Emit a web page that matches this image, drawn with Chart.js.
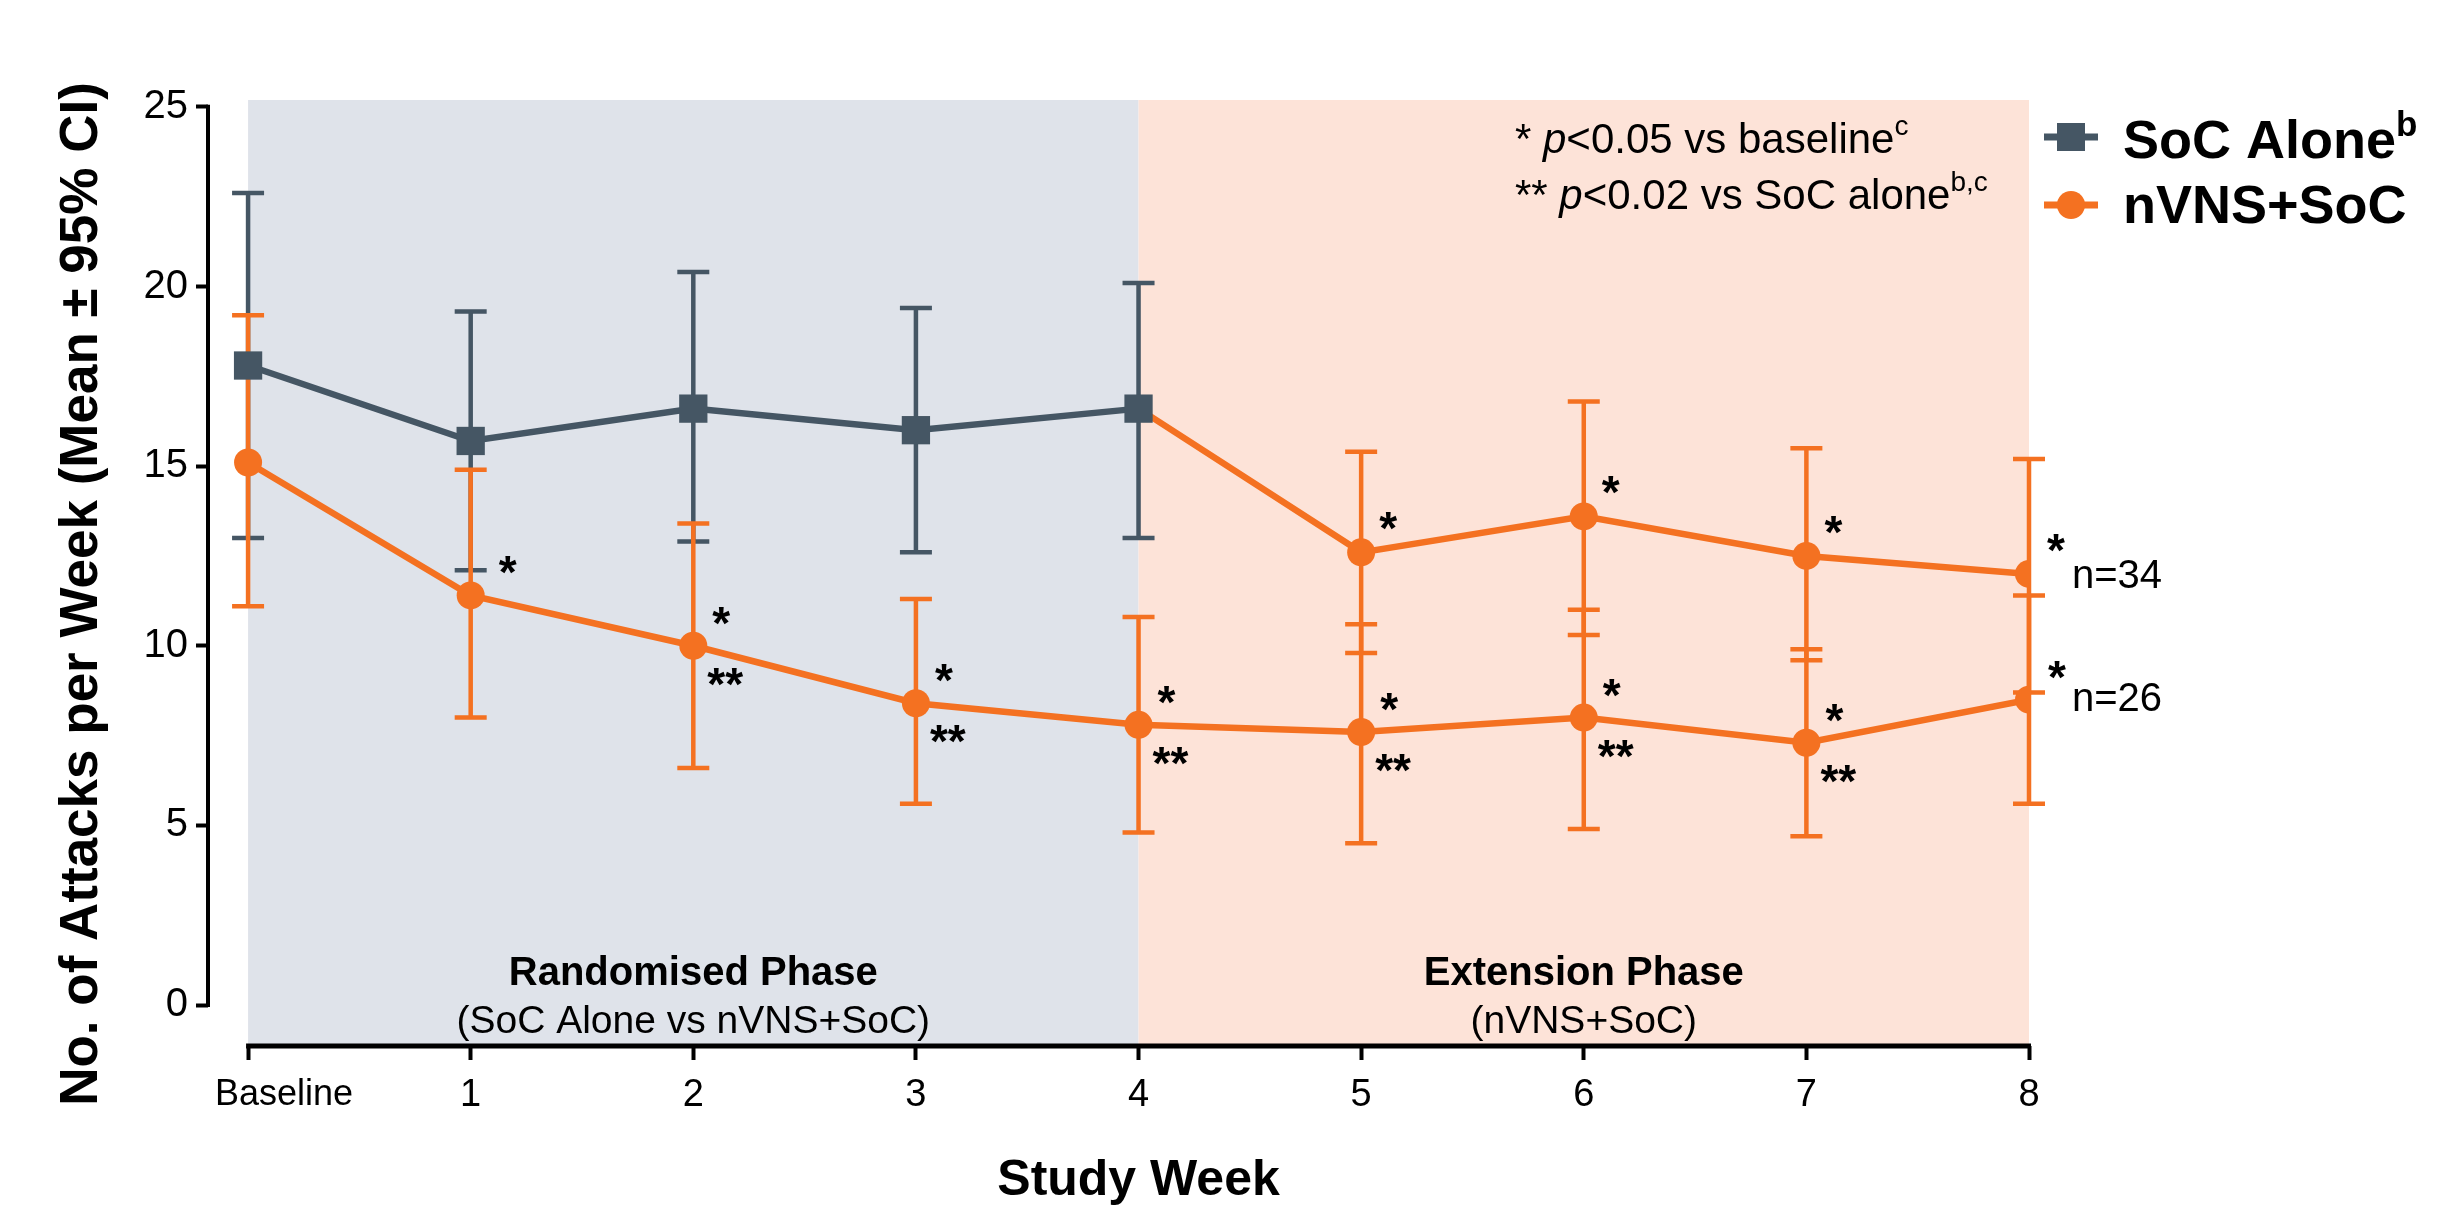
<!DOCTYPE html>
<html><head><meta charset="utf-8">
<script src="https://cdn.jsdelivr.net/npm/chart.js@4.4.1/dist/chart.umd.min.js"></script>
<style>html,body{margin:0;padding:0;background:#fff;}canvas{display:block;}</style>
</head><body>
<canvas id="c" width="2461" height="1208"></canvas>
<script>
// ---------- data ----------
const weekLabels = ['Baseline','1','2','3','4','5','6','7','8'];
const weekValues = [0,1,2,3,4,5,6,7,8];
const yTickValues = [0,5,10,15,20,25];

const socWeeks = [0,1,2,3,4];
const socMean  = [17.8,15.7,16.6,16.0,16.6];
const socUpper = [22.6,19.3,20.4,19.4,20.1];
const socLower = [13.0,12.1,12.9,12.6,13.0];

const extWeeks = [4,5,6,7,8];
const extMean  = [16.6,12.6,13.6,12.5,12.0];
const extUpper = [null,15.4,16.8,15.5,15.2];
const extLower = [null,9.8,10.3,9.6,8.7];
const extStar  = ['','*','*','*','*'];

const nvnsWeeks = [0,1,2,3,4,5,6,7,8];
const nvnsMean  = [15.1,11.4,10.0,8.4,7.8,7.6,8.0,7.3,8.5];
const nvnsUpper = [19.2,14.9,13.4,11.3,10.8,10.6,11.0,9.9,11.4];
const nvnsLower = [11.1,8.0,6.6,5.6,4.8,4.5,4.9,4.7,5.6];
const nvnsStar  = ['','*','*','*','*','*','*','*','*'];
const nvnsStar2 = ['','','**','**','**','**','**','**',''];

const nLabels = ['n=34','n=26'];
const legendNames = ['SoC Alone','nVNS+SoC'];
const legendSup = ['b',''];
const phaseTitles = ['Randomised Phase','Extension Phase'];
const phaseSubs = ['(SoC Alone vs nVNS+SoC)','(nVNS+SoC)'];
const phaseRanges = [[0,4],[4,8]];
const yTitle = 'No. of Attacks per Week (Mean \u00b1 95% CI)';
const xTitle = 'Study Week';

// ---------- styles ----------
const FONT = "'Liberation Sans', Arial, Helvetica, sans-serif";
const SLATE = '#455664';
const ORANGE = '#F47121';
const SHADE1 = '#DFE3EA';
const SHADE2 = '#FDE3D8';

function pts(xs, ys){ return xs.map((x,i)=>({x:x, y:ys[i]})); }

const decor = {
  id: 'decor',
  beforeDatasetsDraw(chart){
    const {ctx, chartArea:a, scales:{x,y}} = chart;
    ctx.save();
    [SHADE1, SHADE2].forEach((c,i)=>{
      const x0 = x.getPixelForValue(phaseRanges[i][0]);
      const x1 = x.getPixelForValue(phaseRanges[i][1]);
      ctx.fillStyle = c;
      ctx.fillRect(x0, a.top, x1-x0, a.bottom-a.top);
    });
    ctx.fillStyle = '#000';
    ctx.textAlign = 'center';
    ctx.textBaseline = 'alphabetic';
    phaseRanges.forEach((r,i)=>{
      const cx = (x.getPixelForValue(r[0]) + x.getPixelForValue(r[1]))/2;
      ctx.font = 'bold 40px ' + FONT;
      ctx.fillText(phaseTitles[i], cx, 985);
      ctx.font = '39px ' + FONT;
      ctx.fillText(phaseSubs[i], cx, 1033);
    });
    function err(ws, up, lo, col){
      ctx.strokeStyle = col; ctx.lineWidth = 4.5; ctx.lineCap = 'butt';
      ws.forEach((w,i)=>{
        if (up[i]==null) return;
        const px = x.getPixelForValue(w);
        const pu = y.getPixelForValue(up[i]);
        const pl = y.getPixelForValue(lo[i]);
        ctx.beginPath();
        ctx.moveTo(px, pu); ctx.lineTo(px, pl);
        ctx.moveTo(px-16, pu); ctx.lineTo(px+16, pu);
        ctx.moveTo(px-16, pl); ctx.lineTo(px+16, pl);
        ctx.stroke();
      });
    }
    err(socWeeks, socUpper, socLower, SLATE);
    err(extWeeks, extUpper, extLower, ORANGE);
    err(nvnsWeeks, nvnsUpper, nvnsLower, ORANGE);
    ctx.restore();
  },
  afterDraw(chart){
    const {ctx, chartArea:a, scales:{x,y}} = chart;
    ctx.save();
    ctx.strokeStyle = '#000';
    ctx.lineWidth = 4;
    ctx.beginPath();
    ctx.moveTo(a.left, y.getPixelForValue(25)-2);
    ctx.lineTo(a.left, y.getPixelForValue(0)+2);
    ctx.stroke();
    ctx.lineWidth = 5;
    ctx.beginPath();
    ctx.moveTo(x.getPixelForValue(0)-2, a.bottom);
    ctx.lineTo(x.getPixelForValue(8)+2, a.bottom);
    ctx.stroke();

    ctx.fillStyle = '#000';
    ctx.font = '36px ' + FONT;
    ctx.textAlign = 'center';
    ctx.textBaseline = 'middle';
    ctx.fillText(weekLabels[0], x.getPixelForValue(0)+36, 1095);

    ctx.font = 'bold 50px ' + FONT;
    ctx.textBaseline = 'alphabetic';
    ctx.fillText(xTitle, (x.getPixelForValue(0)+x.getPixelForValue(8))/2, 1195);
    ctx.save();
    ctx.translate(97, 594);
    ctx.rotate(-Math.PI/2);
    ctx.font = 'bold 53px ' + FONT;
    ctx.fillText(yTitle, 0, 0);
    ctx.restore();

    function mark(t, cx, cy, size){
      ctx.font = 'bold ' + size + 'px ' + FONT;
      const m = ctx.measureText(t);
      const w = m.actualBoundingBoxRight + m.actualBoundingBoxLeft;
      const h = m.actualBoundingBoxAscent + m.actualBoundingBoxDescent;
      ctx.textAlign = 'left'; ctx.textBaseline = 'alphabetic';
      ctx.fillText(t, cx - w/2 + m.actualBoundingBoxLeft, cy + h/2 - m.actualBoundingBoxDescent);
    }
    nvnsWeeks.forEach((w,i)=>{
      const px = x.getPixelForValue(w), py = y.getPixelForValue(nvnsMean[i]);
      if (nvnsStar[i]) mark(nvnsStar[i], px+28, py-30, 46);
      if (nvnsStar2[i]) mark(nvnsStar2[i], px+32, py+31, 46);
    });
    extWeeks.forEach((w,i)=>{
      const px = x.getPixelForValue(w), py = y.getPixelForValue(extMean[i]);
      if (extStar[i]) mark(extStar[i], px+27, py-31, 46);
    });

    ctx.font = '40px ' + FONT;
    ctx.textAlign = 'left';
    ctx.textBaseline = 'middle';
    ctx.fillText(nLabels[0], x.getPixelForValue(8)+43, y.getPixelForValue(extMean[4])+3);
    ctx.fillText(nLabels[1], x.getPixelForValue(8)+43, y.getPixelForValue(nvnsMean[8]));

    function runs(parts, x0, base){
      let cx = x0;
      ctx.textAlign = 'left'; ctx.textBaseline = 'alphabetic';
      parts.forEach(p=>{
        ctx.font = p.f;
        ctx.fillText(p.t, cx, base + (p.dy||0));
        cx += ctx.measureText(p.t).width;
      });
    }
    const R = '42px ' + FONT, I = 'italic 42px ' + FONT, S = '28px ' + FONT;
    runs([{t:'* ',f:R},{t:'p',f:I},{t:'<0.05 vs baseline',f:R},{t:'c',f:S,dy:-18}], 1515, 153);
    runs([{t:'** ',f:R},{t:'p',f:I},{t:'<0.02 vs SoC alone',f:R},{t:'b,c',f:S,dy:-18}], 1515, 209);

    const lx0 = 2044, lx1 = 2098, lcx = 2071;
    const rows = [137, 205], bases = [158, 223];
    [SLATE, ORANGE].forEach((c,i)=>{
      ctx.strokeStyle = c; ctx.fillStyle = c; ctx.lineWidth = 7;
      ctx.beginPath(); ctx.moveTo(lx0, rows[i]); ctx.lineTo(lx1, rows[i]); ctx.stroke();
      if (i===0) ctx.fillRect(lcx-14, rows[i]-14, 28, 28);
      else { ctx.beginPath(); ctx.arc(lcx, rows[i], 14, 0, Math.PI*2); ctx.fill(); }
      ctx.fillStyle = '#000';
      runs([{t:legendNames[i], f:'bold 54px '+FONT},{t:legendSup[i], f:'bold 35px '+FONT, dy:-22}], 2123, bases[i]);
    });
    ctx.restore();
  }
};

new Chart(document.getElementById('c'), {
  type: 'line',
  data: {
    datasets: [
      { label: legendNames[0], data: pts(socWeeks, socMean), borderColor: SLATE, backgroundColor: SLATE,
        borderWidth: 6.5, pointStyle: 'rect', pointRadius: 20, pointBorderWidth: 0, pointBackgroundColor: SLATE, tension: 0 },
      { label: 'extension', data: pts(extWeeks, extMean), borderColor: ORANGE, backgroundColor: ORANGE,
        borderWidth: 6.5, pointStyle: 'circle', pointRadius: [0,14,14,14,14], pointBorderWidth: 0, pointBackgroundColor: ORANGE, tension: 0 },
      { label: legendNames[1], data: pts(nvnsWeeks, nvnsMean), borderColor: ORANGE, backgroundColor: ORANGE,
        borderWidth: 6.5, pointStyle: 'circle', pointRadius: 14, pointBorderWidth: 0, pointBackgroundColor: ORANGE, tension: 0 }
    ]
  },
  options: {
    responsive: false,
    devicePixelRatio: 1,
    animation: false,
    layout: { padding: { top: 100, right: 432, bottom: 0, left: 0 } },
    plugins: { legend: { display: false }, tooltip: { enabled: false } },
    scales: {
      x: {
        type: 'linear', min: -0.18, max: 8,
        afterBuildTicks: s => { s.ticks = weekValues.map(v=>({value:v})); },
        afterFit: s => { s.height = 162; },
        ticks: { callback: v => (v===0 ? '' : weekLabels[weekValues.indexOf(v)]), font: { family: FONT, size: 38 }, color: '#000', padding: 13, maxRotation: 0, autoSkip: false },
        grid: { drawOnChartArea: false, drawTicks: true, tickLength: 14, tickWidth: 4, tickColor: '#000', color: '#000' },
        border: { display: false }
      },
      y: {
        type: 'linear', min: -1.14, max: 25.19,
        afterBuildTicks: s => { s.ticks = yTickValues.map(v=>({value:v})); },
        afterFit: s => { s.width = 208; },
        ticks: { font: { family: FONT, size: 40 }, color: '#000', padding: 8 },
        grid: { drawOnChartArea: false, drawTicks: true, tickLength: 12, tickWidth: 4, tickColor: '#000', color: '#000' },
        border: { display: false }
      }
    }
  },
  plugins: [decor]
});
</script>
</body></html>
